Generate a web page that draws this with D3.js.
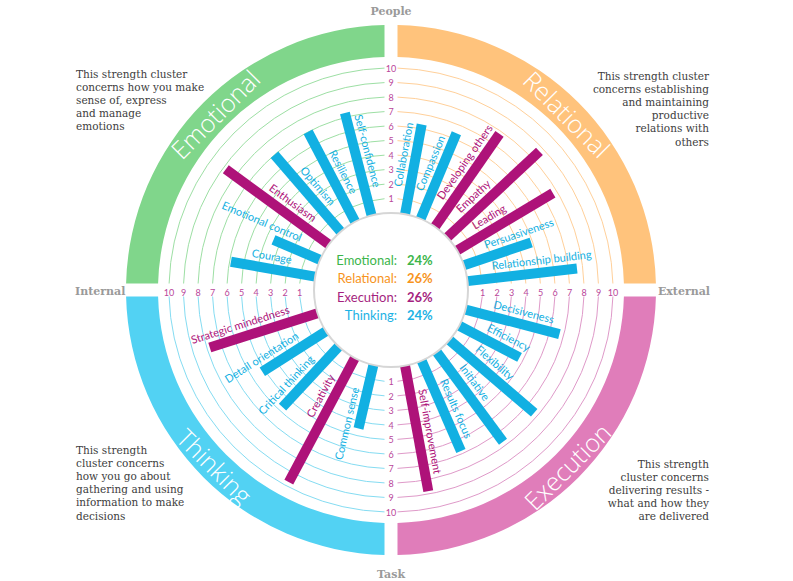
<!DOCTYPE html>
<html>
<head>
<meta charset="utf-8">
<script src="https://cdn.jsdelivr.net/npm/d3@7"></script>
<style>
  html, body { margin: 0; padding: 0; background: #fff; }
  svg { display: block; }
</style>
</head>
<body>
<svg id="chart" width="793" height="581"></svg>
<script>
// ---------------- DATA ----------------
const clusters = ["Emotional", "Relational", "Execution", "Thinking"];
const clusterShares = [24, 26, 26, 24];
const clusterDescriptions = [
  ["This strength cluster", "concerns how you make", "sense of, express", "and manage", "emotions"],
  ["This strength cluster", "concerns establishing", "and maintaining", "productive", "relations with", "others"],
  ["This strength", "cluster concerns", "delivering results -", "what and how they", "are delivered"],
  ["This strength", "cluster concerns", "how you go about", "gathering and using", "information to make", "decisions"]
];
const axisNames = ["People", "External", "Task", "Internal"];
const tickValues = [1, 2, 3, 4, 5, 6, 7, 8, 9, 10];

// strengths listed clockwise inside each cluster
const emotionalStrengths = ["Courage", "Emotional control", "Enthusiasm", "Optimism", "Resilience", "Self-confidence"];
const emotionalScores    = [5.9, 3.5, 8.8, 7.0, 7.0, 7.3];
const relationalStrengths = ["Collaboration", "Compassion", "Developing others", "Empathy", "Leading", "Persuasiveness", "Relationship building"];
const relationalScores    = [6.3, 6.4, 7.8, 8.7, 7.7, 4.9, 7.6];
const executionStrengths = ["Decisiveness", "Efficiency", "Flexibility", "Initiative", "Results focus", "Self-improvement"];
const executionScores    = [6.7, 4.7, 7.7, 7.7, 6.8, 8.8];
const thinkingStrengths = ["Common sense", "Creativity", "Critical thinking", "Detail orientation", "Strategic mindedness"];
const thinkingScores    = [4.5, 9.7, 5.7, 5.2, 7.8];
const topStrengths = ["Enthusiasm", "Developing others", "Empathy", "Leading", "Self-improvement", "Creativity", "Strategic mindedness"];

// ---------------- LAYOUT / STYLE ----------------
const W = 793, H = 581;
const cx = 391, cy = 290;
const svg = d3.select("#chart");
const bandColors = ["#80d68b", "#ffc37c", "#e07dba", "#52d2f3"];
const ringColors = ["#9ddfa4", "#ffd09a", "#df9ac9", "#85dcf2"];
const textColors = ["#3cb54b", "#f7941d", "#a51f80", "#1db2e4"];
const barBlue = "#12b0e2", barMagenta = "#ae1279";
const sansFont = "Lato, 'Open Sans', sans-serif";
const serifFont = "'DejaVu Serif', serif";

const rScale = d3.scaleLinear().domain([0, 10]).range([77, 222]);
const bandInner = 233, bandOuter = 265;
const halfGap = 6.5;
const deg = Math.PI / 180;

// angular placement of first/last bar of each cluster (degrees, clockwise from top)
const clusterAngleRanges = [[-80, -14.6], [10.5, 83.4], [104.7, 169.5], [193.2, 252.4]];
const strengthsByCluster = [emotionalStrengths, relationalStrengths, executionStrengths, thinkingStrengths];
const scoresByCluster = [emotionalScores, relationalScores, executionScores, thinkingScores];

const root = svg.append("g").attr("transform", `translate(${cx},${cy})`);

// ---- outer bands (constant-width gaps) ----
clusters.forEach((c, i) => {
  const a0 = (i - 1) * Math.PI / 2, a1 = i * Math.PI / 2;
  const p = d3.path();
  const oa0 = a0 + Math.asin(halfGap / bandOuter), oa1 = a1 - Math.asin(halfGap / bandOuter);
  const ia0 = a0 + Math.asin(halfGap / bandInner), ia1 = a1 - Math.asin(halfGap / bandInner);
  p.arc(0, 0, bandOuter, oa0 - Math.PI / 2, oa1 - Math.PI / 2);
  p.arc(0, 0, bandInner, ia1 - Math.PI / 2, ia0 - Math.PI / 2, true);
  p.closePath();
  root.append("path").attr("d", p.toString()).attr("fill", bandColors[i]);
});

// ---- band titles ----
const titleAngles = [-45, 45, 135, 225];
const titleRot = [-45, 45, -45, 45];
clusters.forEach((c, i) => {
  const a = titleAngles[i] * deg, rr = (bandInner + bandOuter) / 2;
  root.append("text")
    .attr("transform", `translate(${rr * Math.sin(a)},${-rr * Math.cos(a)}) rotate(${titleRot[i]})`)
    .attr("text-anchor", "middle")
    .attr("dominant-baseline", "central")
    .attr("fill", "#fff")
    .attr("font-family", "'Open Sans', sans-serif")
    .attr("font-weight", 300)
    .attr("font-size", 25)
    .text(c);
});

// ---- ring lines ----
clusters.forEach((c, i) => {
  const a0 = (i - 1) * Math.PI / 2, a1 = i * Math.PI / 2;
  tickValues.forEach(t => {
    const r = rScale(t);
    const g = Math.asin(halfGap / r);
    const p = d3.path();
    const s = a0 + g - Math.PI / 2, e = a1 - g - Math.PI / 2;
    p.moveTo(r * Math.cos(s), r * Math.sin(s));
    p.arc(0, 0, r, s, e);
    root.append("path").attr("d", p.toString())
      .attr("fill", "none").attr("stroke", ringColors[i]).attr("stroke-width", 1);
  });
});

// ---- tick labels on the four axes ----
const axisDirs = [[0, -1], [1, 0], [0, 1], [-1, 0]];
axisDirs.forEach(d => {
  tickValues.forEach(t => {
    const r = rScale(t);
    root.append("text")
      .attr("x", d[0] * r).attr("y", d[1] * r + (d[1] === 0 ? 2 : 0))
      .attr("text-anchor", "middle").attr("dominant-baseline", "central")
      .attr("fill", "#b9469a").attr("font-family", sansFont).attr("font-size", 9)
      .text(t);
  });
});

// ---- bars & labels ----
const barWidth = 10;
strengthsByCluster.forEach((names, ci) => {
  const angle = d3.scalePoint().domain(names).range(clusterAngleRanges[ci]);
  names.forEach((name, k) => {
    const v = scoresByCluster[ci][k];
    const th = angle(name);
    const isTop = topStrengths.includes(name);
    const col = isTop ? barMagenta : barBlue;
    const g = root.append("g").attr("transform", `rotate(${th})`);
    g.append("rect")
      .attr("x", -barWidth / 2).attr("width", barWidth)
      .attr("y", -rScale(v)).attr("height", rScale(v) - rScale(0))
      .attr("fill", col);
    const rightSide = th > 0 && th < 180;
    g.append("text")
      .attr("transform", rightSide ? "rotate(-90)" : "rotate(90)")
      .attr("x", rightSide ? 103 : -103)
      .attr("y", -8.5)
      .attr("text-anchor", rightSide ? "start" : "end")
      .attr("fill", col)
      .attr("font-family", sansFont).attr("font-size", 11)
      .text(name);
  });
});

// ---- inner circle ----
root.append("circle").attr("r", rScale(0)).attr("fill", "#fff")
  .attr("stroke", "#d6d6d6").attr("stroke-width", 2);

// ---- centre percentages ----
clusters.forEach((c, i) => {
  const y = -25 + i * 18.3;
  root.append("text").attr("x", 6).attr("y", y).attr("text-anchor", "end")
    .attr("fill", textColors[i]).attr("font-family", sansFont).attr("font-size", 13)
    .text(c + ":");
  root.append("text").attr("x", 16).attr("y", y).attr("text-anchor", "start")
    .attr("fill", textColors[i]).attr("font-family", sansFont).attr("font-size", 13)
    .attr("font-weight", "bold")
    .text(clusterShares[i] + "%");
});

// ---- axis names ----
const axisLabelPos = [[cx, 15, "middle"], [710, 295, "end"], [cx, 578, "middle"], [75, 295, "start"]];
axisNames.forEach((n, i) => {
  svg.append("text").attr("x", axisLabelPos[i][0]).attr("y", axisLabelPos[i][1])
    .attr("text-anchor", axisLabelPos[i][2])
    .attr("fill", "#9a9a9a").attr("font-family", serifFont).attr("font-weight", "bold")
    .attr("font-size", 11).text(n);
});

// ---- corner descriptions ----
const descPos = [[76, 78, "start"], [709, 80, "end"], [709, 468, "end"], [76, 454, "start"]];
clusterDescriptions.forEach((lines, i) => {
  const t = svg.append("text").attr("fill", "#404040").attr("font-family", serifFont)
    .attr("font-size", 10.5).attr("text-anchor", descPos[i][2]);
  lines.forEach((l, j) => {
    t.append("tspan").attr("x", descPos[i][0]).attr("y", descPos[i][1] + j * 13.1).text(l);
  });
});
</script>
</body>
</html>
